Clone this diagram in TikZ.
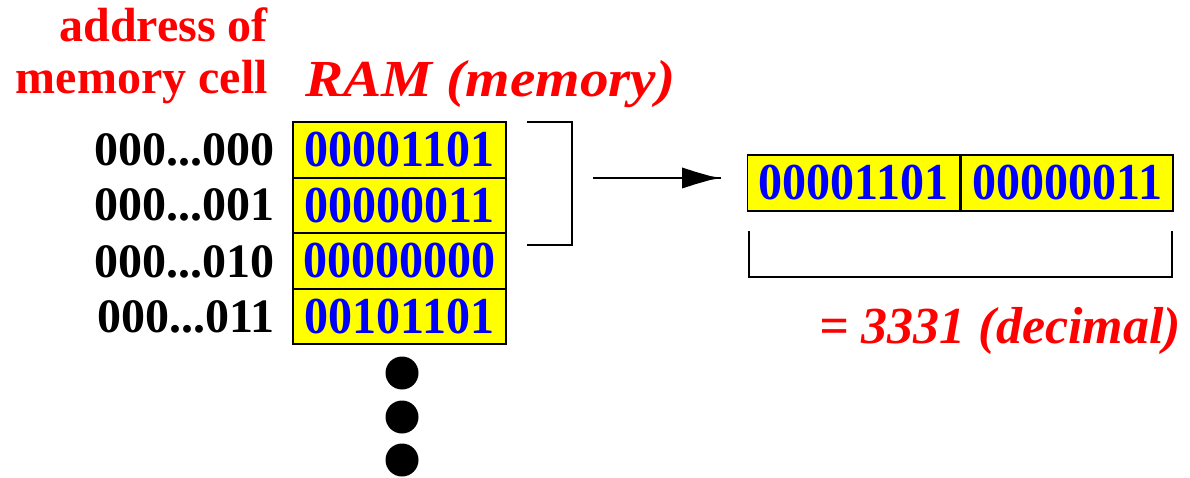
\documentclass[tikz,border=0pt]{standalone}
\usepackage{graphicx}
\usepackage{fontspec}
\setmainfont{Liberation Serif}
\usetikzlibrary{arrows.meta}
\definecolor{cellyellow}{RGB}{255,255,0}
\definecolor{bitblue}{RGB}{0,0,255}
\definecolor{labelred}{RGB}{255,0,0}
% bit strings are set slightly taller than the font's natural shape
\newcommand\tallbits[1]{\scalebox{1}[1.08]{#1}}
\begin{document}
\begin{tikzpicture}[x=1pt,y=-1pt,
  addr/.style={anchor=base east,inner sep=0pt,font=\fontsize{48}{48}\selectfont\bfseries},
  title/.style={inner sep=0pt,text=labelred,font=\fontsize{48}{48}\selectfont\bfseries},
  ititle/.style={inner sep=0pt,text=labelred,font=\fontsize{52}{52}\selectfont\bfseries\itshape},
  memcell/.style={draw=black,line width=1.8pt,fill=cellyellow,text=bitblue,
    minimum width=213pt,minimum height=55.5pt,inner sep=0pt,
    font=\fontsize{48}{48}\selectfont\bfseries},
  halfcell/.style={memcell,minimum width=212pt,minimum height=56pt},
  wire/.style={line width=1.8pt,black},
  dot/.style={circle,fill=black,minimum size=33pt,inner sep=0pt}]
\useasboundingbox (0,0) rectangle (1190,478);

% headings
\node[title,anchor=base east] (hd1) at (268,42) {address of};
\node[title,anchor=base east] (hd2) at (268,94) {memory cell};
\node[ititle,anchor=base west] (hd3) at (305,97) {\scalebox{1.1}[1]{RAM (memory)}};

% memory cells
\node[memcell] (r0) at (399.5,150) {\tallbits{00001101}};
\node[memcell] (r1) at (399.5,205.5) {\tallbits{00000011}};
\node[memcell] (r2) at (399.5,261) {\tallbits{00000000}};
\node[memcell] (r3) at (399.5,316.5) {\tallbits{00101101}};

% addresses
\node[addr] (a0) at (275,166) {000...000};
\node[addr] (a1) at (275,221) {000...001};
\node[addr] (a2) at (275,277) {000...010};
\node[addr] (a3) at (275,332) {000...011};

% continuation dots
\node[dot] (d0) at (402,373) {};
\node[dot] (d1) at (402,417) {};
\node[dot] (d2) at (402,460) {};

% bracket grouping the first two cells
\coordinate (bt) at (527,122);
\coordinate (bb) at (527,245);
\coordinate (bm) at (572,178);
\draw[wire] (bt) -| (bm) |- (bb);

% two-byte word
\node[halfcell] (w1) at (853.5,183) {\tallbits{00001101}};
\node[halfcell,anchor=west] (w2) at (w1.east) {\tallbits{00000011}};

% arrow to the word, with a tapered head
\coordinate (as) at (593,178);
\coordinate (ae) at (721,178);
\draw[wire] (as) -- (ae);
\fill[black] ([shift={(-39,-10.5)}]ae) -- ([shift={(-25,-6)}]ae)
  -- ([shift={(-11,-2)}]ae) -- (ae) -- ([shift={(-11,2)}]ae)
  -- ([shift={(-25,6)}]ae) -- ([shift={(-39,10.5)}]ae) -- cycle;

% bracket under the word
\coordinate (ul) at (749,231);
\coordinate (ur) at (1172,231);
\draw[wire] (ul) -- ++(0,46) -| (ur);

% value
\node[ititle,anchor=base east] (val) at (1181,343) {= 3331 (decimal)};
\end{tikzpicture}
\end{document}
